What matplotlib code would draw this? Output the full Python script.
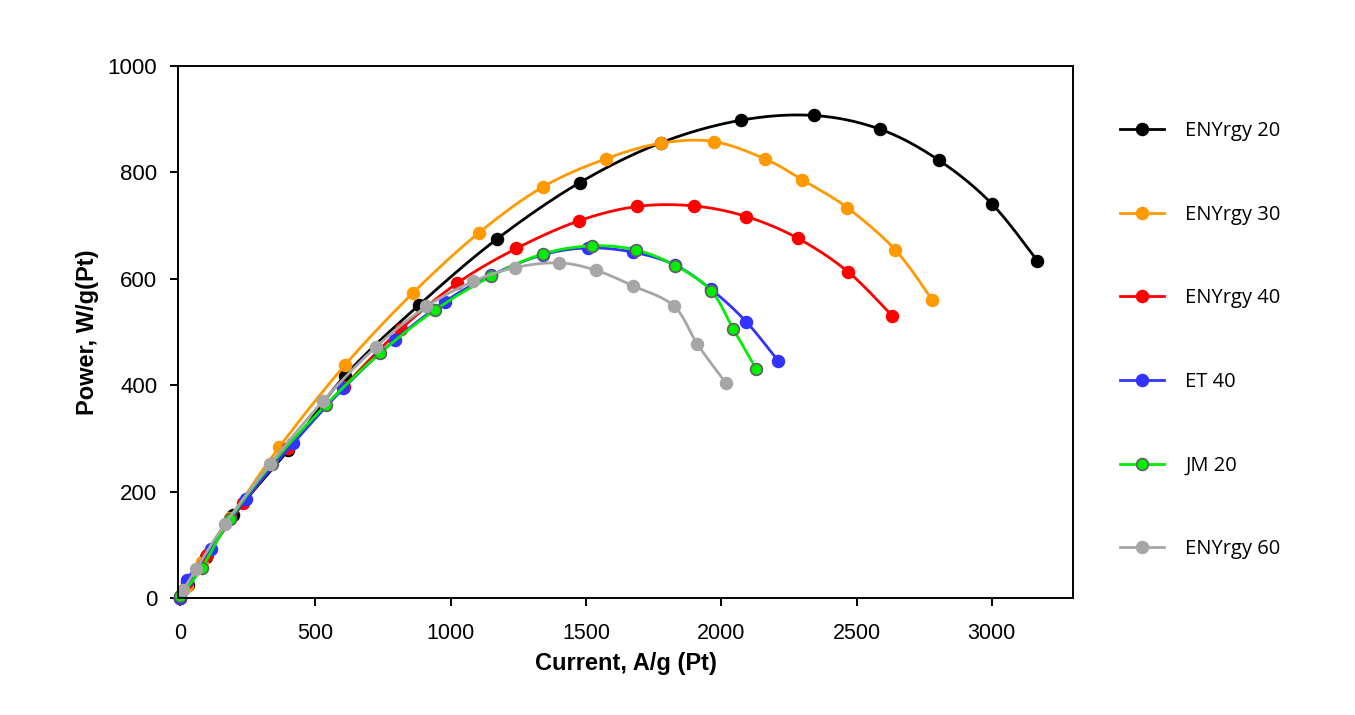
import matplotlib
matplotlib.use("Agg")
import matplotlib.pyplot as plt
import numpy as np

# values (current A/g, power W/g)
eny20_x = [0, 30, 95, 197, 400, 610, 884, 1172, 1478, 1779, 2072, 2343, 2588, 2804, 3000, 3168]
eny20_y = [0, 25, 78, 156, 278, 418, 551, 675, 781, 856, 898, 907, 881, 823, 741, 634]

eny30_x = [0, 25, 80, 185, 366, 610, 862, 1106, 1342, 1576, 1779, 1973, 2163, 2300, 2465, 2644, 2780]
eny30_y = [0, 22, 68, 150, 283, 438, 574, 687, 773, 826, 855, 858, 825, 786, 734, 654, 560]

eny40_x = [0, 25, 99, 234, 400, 605, 815, 1025, 1243, 1474, 1690, 1899, 2093, 2284, 2469, 2631]
eny40_y = [0, 31, 81, 178, 282, 397, 505, 592, 657, 709, 736, 737, 717, 676, 613, 531]

et40_x = [0, 25, 113, 244, 419, 604, 794, 979, 1151, 1340, 1509, 1675, 1829, 1963, 2093, 2210]
et40_y = [0, 34, 93, 186, 291, 394, 485, 557, 607, 645, 658, 650, 626, 580, 519, 446]

jm20_x = [2, 80, 185, 339, 539, 739, 942, 1151, 1342, 1524, 1686, 1830, 1962, 2044, 2130]
jm20_y = [4, 56, 148, 252, 363, 460, 541, 605, 647, 662, 654, 625, 578, 506, 430]

eny60_x = [12, 59, 166, 332, 530, 724, 911, 1084, 1238, 1400, 1537, 1673, 1825, 1912, 2016]
eny60_y = [15, 54, 139, 251, 371, 472, 548, 595, 621, 630, 616, 587, 549, 477, 405]

labels = ["ENYrgy 20", "ENYrgy 30", "ENYrgy 40", "ET 40", "JM 20", "ENYrgy 60"]
colors = ["#000000", "#FF9900", "#FF0000", "#3333FF", "#00EE00", "#A6A6A6"]
edges = ["#000000", "#FF9900", "#FF0000", "#3333FF", "#606060", "#A6A6A6"]


def smooth(x, y, n=20):
    # excel-like smoothed line (catmull-rom bezier) through the data points
    p = np.column_stack([x, y]).astype(float)
    pts = []
    for i in range(len(p) - 1):
        p0 = p[i - 1] if i > 0 else p[i]
        p3 = p[i + 2] if i + 2 < len(p) else p[i + 1]
        c1 = p[i] + (p[i + 1] - p0) / 6.0
        c2 = p[i + 1] - (p3 - p[i]) / 6.0
        t = np.linspace(0, 1, n)[:, None]
        b = ((1 - t) ** 3) * p[i] + 3 * ((1 - t) ** 2) * t * c1 + 3 * (1 - t) * t ** 2 * c2 + t ** 3 * p[i + 1]
        pts.append(b)
    b = np.vstack(pts)
    return b[:, 0], b[:, 1]


fig = plt.figure(figsize=(13.55, 7.15), dpi=100)
ax = fig.add_axes([0.1314, 0.1636, 0.6605, 0.7441])

series = [(eny20_x, eny20_y), (eny30_x, eny30_y), (eny40_x, eny40_y),
          (et40_x, et40_y), (jm20_x, jm20_y), (eny60_x, eny60_y)]
handles = []
for (xs, ys), lab, c, ec in zip(series, labels, colors, edges):
    sx, sy = smooth(xs, ys)
    ax.plot(sx, sy, color=c, lw=2.0, clip_on=False)
    ax.plot(xs, ys, ls="none", marker="o", ms=8.5, mfc=c, mec=ec, mew=1.2, clip_on=False)
    h, = ax.plot([], [], color=c, lw=2.0, marker="o", ms=8.5, mfc=c, mec=ec, mew=1.2)
    handles.append(h)

ax.set_xlim(-7, 3300)
ax.set_ylim(0, 1000)
ax.set_xticks([0, 500, 1000, 1500, 2000, 2500, 3000])
ax.set_yticks([0, 200, 400, 600, 800, 1000])
for s in ax.spines.values():
    s.set_linewidth(1.4)
ax.tick_params(axis="both", direction="out", length=6, width=1.4)
ax.tick_params(axis="y", pad=9)
ax.tick_params(axis="x", pad=12)
for t in ax.get_yticklabels():
    t.set_family(["Liberation Sans", "DejaVu Sans"])
    t.set_fontsize(16)
for t in ax.get_xticklabels():
    t.set_family(["Liberation Sans Narrow", "Liberation Sans", "DejaVu Sans"])
    t.set_fontsize(15.5)

ax.set_xlabel("Current, A/g (Pt)", fontsize=17, fontweight="bold",
              family=["Liberation Sans Narrow", "Liberation Sans", "DejaVu Sans"], labelpad=6)
ax.set_ylabel("Power, W/g(Pt)", fontsize=17, fontweight="bold",
              family=["Liberation Sans", "DejaVu Sans"], labelpad=6)

leg = fig.legend(handles, labels, loc="upper left", bbox_to_anchor=(0.813, 0.856),
                 frameon=False, labelspacing=3.16, handlelength=2.2, handletextpad=1.05,
                 prop={"family": ["Open Sans", "DejaVu Sans"], "size": 14.5})

fig.savefig("out.png", dpi=100)
